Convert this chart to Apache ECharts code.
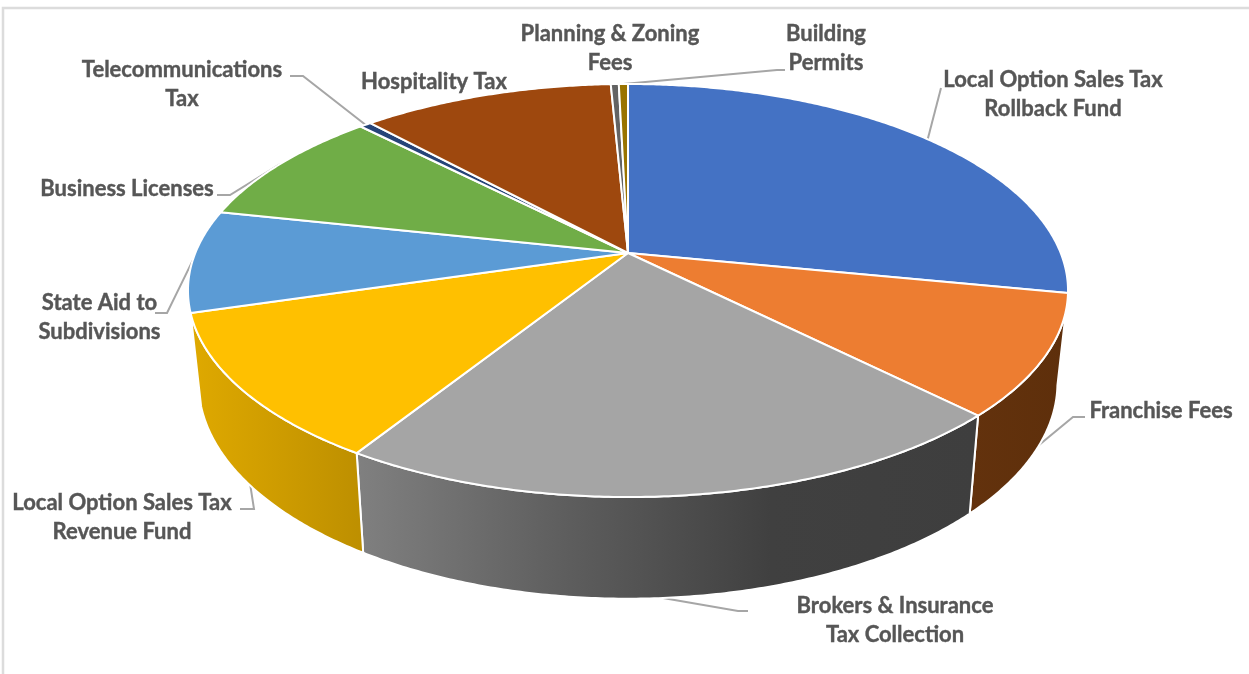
<!DOCTYPE html>
<html>
<head>
<meta charset="utf-8">
<title>Revenue sources</title>
<style>
  html, body { margin: 0; padding: 0; background: #ffffff; }
  #chart { width: 1249px; height: 674px; }
</style>
<script src="https://cdn.jsdelivr.net/npm/echarts@6/dist/echarts.min.js"></script>
</head>
<body>
<div id="chart"></div>
<script>
// Revenue sources, in order clockwise from twelve o'clock
const categories = [
  'Local Option Sales Tax\nRollback Fund',
  'Franchise Fees',
  'Brokers & Insurance\nTax Collection',
  'Local Option Sales Tax\nRevenue Fund',
  'State Aid to\nSubdivisions',
  'Business Licenses',
  'Telecommunications\nTax',
  'Hospitality Tax',
  'Planning & Zoning\nFees',
  'Building\nPermits'
];
// Share of revenue, percent
const shares = [28.1, 9.45, 21.35, 11.5, 8.0, 9.3, 0.5, 11.05, 0.35, 0.4];

const topColors = ['#4472C4', '#ED7D31', '#A5A5A5', '#FFC000', '#5B9BD5',
                   '#70AD47', '#264478', '#9E480E', '#636363', '#997300'];
// Rim shading per slice, evenly spaced from left to right
const rimColors = [
  ['#29446f', '#29446f'], ['#63320d', '#5e2f0b'], ['#808080', '#5e5e5e', '#404040', '#3e3e3e'],
  ['#dfa900', '#bd8f00'], ['#366092', '#366092'], ['#43682b', '#43682b'],
  ['#172949', '#172949'], ['#5f2c08', '#5f2c08'], ['#3c3c3c', '#3c3c3c'], ['#5c4500', '#5c4500']
];

// Perspective view of the disc: apex, projection scale and foreshortening
const view = { cx: 628, cy: 253, ax: 432.7, ay: 199.7, k: 0.1816 };
// Lower rim of the disc relative to the projected upper rim
const rim = { xScale: 0.976, yScale: 1.045, yRef: 415, yAt: 513, fromDeg: 90, toDeg: 254 };

// Label placement: text centre, leader path after the slice anchor, anchor nudge in degrees
const labelLayout = [
  { x: 1053, y: 94, leader: [[941, 88]], lower: false, nudge: 0 },
  { x: 1161, y: 411, leader: [[1073, 417], [1085, 417]], lower: true, nudge: 0, mid: [1033, 450] },
  { x: 895, y: 620, leader: [[738, 611], [748, 611]], lower: true, nudge: 2.5 },
  { x: 122, y: 517, leader: [[254, 509], [240, 509]], lower: true, nudge: 0 },
  { x: 99.5, y: 317, leader: [[167, 313], [155, 313]], lower: false, nudge: 0 },
  { x: 127, y: 189, leader: [[230, 195], [217, 195]], lower: false, nudge: 0 },
  { x: 182, y: 84, leader: [[303, 76], [290, 76]], lower: false, nudge: 0 },
  { x: 434, y: 82, leader: [], lower: false, nudge: 0 },
  { x: 610, y: 48, leader: [], lower: false, nudge: 0 },
  { x: 826, y: 48, leader: [[777, 70], [785, 70]], lower: false, nudge: 0 }
];

const total = shares.reduce((a, b) => a + b, 0);
const starts = [];
shares.reduce((acc, v, i) => { starts[i] = acc / total * 360; return acc + v; }, 0);
const endOf = i => starts[i] + shares[i] / total * 360;

// Project an angle (degrees clockwise from the top) onto the upper rim
function upper(deg) {
  const r = deg * Math.PI / 180;
  const u = Math.sin(r), v = -Math.cos(r), w = 1 - view.k * v;
  return [view.cx + view.ax * u / w, view.cy + view.ay * v / w];
}
// The same angle on the lower rim
function lower(deg) {
  const p = upper(deg);
  return [view.cx + (p[0] - view.cx) * rim.xScale, rim.yAt + (p[1] - rim.yRef) * rim.yScale];
}
function arc(from, to, project) {
  const pts = [], n = Math.max(2, Math.ceil((to - from) * 2));
  for (let j = 0; j <= n; j++) pts.push(project(from + (to - from) * j / n));
  return pts;
}

const renderRim = (params) => {
  const i = params.dataIndex;
  const from = Math.max(starts[i], rim.fromDeg), to = Math.min(endOf(i), rim.toDeg);
  if (to - from < 1) return null;
  const points = arc(from, to, upper).concat(arc(from, to, lower).reverse());
  const colors = rimColors[i];
  return {
    type: 'polygon',
    shape: { points },
    style: {
      fill: new echarts.graphic.LinearGradient(
        Math.min(...points.map(p => p[0])), 0, Math.max(...points.map(p => p[0])), 0,
        colors.map((color, c) => ({ offset: c / (colors.length - 1), color })), true),
      stroke: '#ffffff', lineWidth: 2
    }
  };
};

const renderTop = (params) => {
  const i = params.dataIndex;
  const points = [[view.cx, view.cy]].concat(arc(starts[i], endOf(i), upper));
  return {
    type: 'polygon',
    shape: { points },
    style: { fill: topColors[i], stroke: '#ffffff', lineWidth: 2, lineJoin: 'round' }
  };
};

const renderLeader = (params) => {
  const i = params.dataIndex, cfg = labelLayout[i];
  if (!cfg.leader.length) return null;
  const mid = (starts[i] + endOf(i)) / 2 + cfg.nudge;
  const anchor = (cfg.lower ? lower : upper)(mid);
  const path = [cfg.mid || anchor].concat(cfg.leader);
  return {
    type: 'polyline',
    shape: { points: path },
    style: { stroke: '#a6a6a6', lineWidth: 2, fill: 'none' }
  };
};

const renderLabel = (params) => {
  const cfg = labelLayout[params.dataIndex];
  return {
    type: 'text',
    style: {
      text: categories[params.dataIndex], x: cfg.x, y: cfg.y,
      align: 'center', verticalAlign: 'middle', lineHeight: 29,
      fontFamily: 'Lato', fontWeight: 700, fontSize: 22, fill: '#565656',
      stroke: '#565656', lineWidth: 0.4
    }
  };
};

const chart = echarts.init(document.getElementById('chart'), null, { renderer: 'canvas' });
const customSeries = (renderItem, z) => ({
  type: 'custom', coordinateSystem: 'none', renderItem, data: shares, z, silent: true,
  clip: false, animation: false
});
chart.setOption({
  backgroundColor: '#ffffff',
  animation: false,
  graphic: [{
    type: 'polyline', z: 0, silent: true,
    shape: { points: [[3, 674], [3, 8], [1249, 8]] },
    style: { stroke: '#dcdcdc', lineWidth: 2.5, fill: 'none' }
  }],
  series: [
    customSeries(renderLeader, 1),
    customSeries(renderRim, 2),
    customSeries(renderTop, 3),
    customSeries(renderLabel, 4)
  ]
});
</script>
</body>
</html>
